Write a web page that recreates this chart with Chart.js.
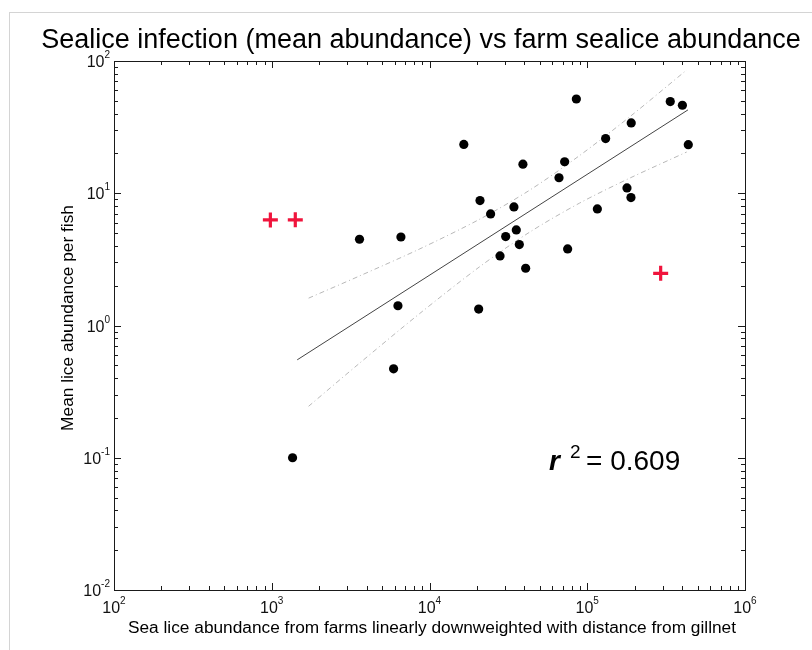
<!DOCTYPE html>
<html>
<head>
<meta charset="utf-8">
<script src="https://cdn.jsdelivr.net/npm/chart.js@4.4.1/dist/chart.umd.min.js"></script>
<style>
    html, body { margin: 0; padding: 0; background: #fff; }
    #wrap { width: 812px; height: 650px; position: relative; }
</style>
</head>
<body>
<div id="wrap"><canvas id="liceChart"></canvas></div>
<script>
// farm lice (x) vs mean lice per fish (y)
const farmLice = [1355, 5920, 6310, 3600, 6590, 16500, 39100, 20900, 24400, 34300, 35500, 30400, 37100, 28000,
    40700, 20500, 85300, 336000, 401000, 190000, 130800, 437000, 71900, 66200, 178600, 189300, 115900, 75100];
const fishLice = [0.1, 0.47, 1.41, 4.49, 4.67, 23.4, 16.6, 8.8, 6.98, 7.88, 5.28, 4.7, 4.09, 3.36,
    2.71, 1.33, 51.6, 49.3, 46.3, 34.0, 25.9, 23.3, 17.3, 13.1, 10.97, 9.27, 7.61, 3.79];

// excluded sites (red crosses)
const excludedFarm = [980, 1410, 292000];
const excludedFish = [6.28, 6.3, 2.48];

// regression line and its confidence band
const fitX = [1450, 435000];
const fitY = [0.55, 42.7];
const bandX = [1712, 3604, 8654, 20780, 43130, 89500, 185700, 426900];
const bandUpper = [1.61, 2.37, 3.79, 6.36, 10.55, 19.3, 37.8, 85.5];
const bandLower = [0.245, 0.519, 1.23, 2.78, 5.08, 8.43, 13.0, 20.5];

const xTickExps = [2, 3, 4, 5, 6];
const yTickExps = [-2, -1, 0, 1, 2];
const rSquared = '0.609';

const FONT = '"Liberation Sans", Arial, Helvetica, sans-serif';

const toPoints = (xs, ys) => xs.map((x, i) => ({ x: x, y: ys[i] }));

// MATLAB-like box, inward ticks and 10^n labels
const logAxesPlugin = {
    id: 'logAxes',
    afterDraw(chart) {
        const ctx = chart.ctx;
        const area = chart.chartArea;
        const xs = chart.scales.x;
        const ys = chart.scales.y;
        ctx.save();

        // figure window border
        ctx.strokeStyle = '#d4d4d4';
        ctx.lineWidth = 1;
        ctx.strokeRect(9.5, 12.5, 830, 660);

        ctx.strokeStyle = '#1a1a1a';
        ctx.lineWidth = 1;
        ctx.beginPath();
        for (let e = xTickExps[0]; e < xTickExps[xTickExps.length - 1]; e++) {
            for (let m = 1; m <= 9; m++) {
                const px = Math.round(xs.getPixelForValue(m * Math.pow(10, e))) + 0.5;
                const len = m === 1 ? 7 : 4;
                ctx.moveTo(px, area.bottom); ctx.lineTo(px, area.bottom - len);
                ctx.moveTo(px, area.top); ctx.lineTo(px, area.top + len);
            }
        }
        for (let e = yTickExps[0]; e < yTickExps[yTickExps.length - 1]; e++) {
            for (let m = 1; m <= 9; m++) {
                const py = Math.round(ys.getPixelForValue(m * Math.pow(10, e))) + 0.5;
                const len = m === 1 ? 7 : 4;
                ctx.moveTo(area.left, py); ctx.lineTo(area.left + len, py);
                ctx.moveTo(area.right, py); ctx.lineTo(area.right - len, py);
            }
        }
        ctx.stroke();
        ctx.strokeRect(Math.round(area.left) + 0.5, Math.round(area.top) + 0.5,
            Math.round(area.right - area.left), Math.round(area.bottom - area.top));

        // tick labels
        ctx.fillStyle = '#111';
        ctx.textBaseline = 'alphabetic';
        xTickExps.forEach(e => {
            const px = xs.getPixelForValue(Math.pow(10, e));
            ctx.font = '16px ' + FONT;
            const w1 = ctx.measureText('10').width;
            ctx.font = '10px ' + FONT;
            const w2 = ctx.measureText(String(e)).width;
            const x0 = px - (w1 + w2) / 2;
            ctx.font = '16px ' + FONT;
            ctx.textAlign = 'left';
            ctx.fillText('10', x0, 613);
            ctx.font = '10px ' + FONT;
            ctx.fillText(String(e), x0 + w1, 604);
        });
        yTickExps.forEach(e => {
            const py = ys.getPixelForValue(Math.pow(10, e));
            const label = e < 0 ? '-' + Math.abs(e) : String(e);
            ctx.font = '10px ' + FONT;
            const w2 = ctx.measureText(label).width;
            ctx.font = '16px ' + FONT;
            const w1 = ctx.measureText('10').width;
            const x0 = area.left - 4 - w1 - w2;
            ctx.textAlign = 'left';
            ctx.fillText('10', x0, py + 6);
            ctx.font = '10px ' + FONT;
            ctx.fillText(label, x0 + w1, py - 3);
        });

        // title and axis labels
        ctx.fillStyle = '#000';
        ctx.textAlign = 'center';
        ctx.font = '27px ' + FONT;
        ctx.fillText('Sealice infection (mean abundance) vs farm sealice abundance', 421, 48);
        ctx.font = '17.3px ' + FONT;
        ctx.fillText('Sea lice abundance from farms linearly downweighted with distance from gillnet', 432, 633);
        ctx.save();
        ctx.translate(73, 318);
        ctx.rotate(-Math.PI / 2);
        ctx.fillText('Mean lice abundance per fish', 0, 0);
        ctx.restore();

        // r^2 annotation
        ctx.textAlign = 'left';
        ctx.font = 'italic bold 28px ' + FONT;
        ctx.fillText('r', 549, 470);
        ctx.font = '19px ' + FONT;
        ctx.fillText('2', 570, 458);
        ctx.font = '28px ' + FONT;
        ctx.fillText('= ' + rSquared, 586, 470);

        ctx.restore();
    }
};

new Chart(document.getElementById('liceChart'), {
    type: 'scatter',
    data: {
        datasets: [
            {
                label: 'Sites',
                data: toPoints(farmLice, fishLice),
                backgroundColor: '#000',
                borderColor: '#000',
                pointRadius: 4.6,
                pointBorderWidth: 0,
            },
            {
                label: 'Excluded',
                data: toPoints(excludedFarm, excludedFish),
                pointStyle: 'cross',
                pointRadius: 7.5,
                borderColor: '#f0143c',
                pointBorderWidth: 3.2,
            },
            {
                label: 'Fit',
                data: toPoints(fitX, fitY),
                showLine: true,
                borderColor: '#444',
                borderWidth: 1,
                pointRadius: 0,
            },
            {
                label: 'Upper',
                data: toPoints(bandX, bandUpper),
                showLine: true,
                tension: 0.3,
                borderColor: '#b8b8b8',
                borderWidth: 1,
                borderDash: [5, 3, 1, 3],
                pointRadius: 0,
            },
            {
                label: 'Lower',
                data: toPoints(bandX, bandLower),
                showLine: true,
                tension: 0.3,
                borderColor: '#b8b8b8',
                borderWidth: 1,
                borderDash: [5, 3, 1, 3],
                pointRadius: 0,
            },
        ],
    },
    options: {
        responsive: true,
        maintainAspectRatio: false,
        animation: false,
        layout: { padding: { left: 114, right: 67, top: 61, bottom: 60 } },
        plugins: {
            legend: { display: false },
            tooltip: { enabled: false },
            title: { display: false },
        },
        scales: {
            x: { type: 'logarithmic', min: 100, max: 1e6, display: false },
            y: { type: 'logarithmic', min: 0.01, max: 100, display: false },
        },
    },
    plugins: [logAxesPlugin],
});
</script>
</body>
</html>
